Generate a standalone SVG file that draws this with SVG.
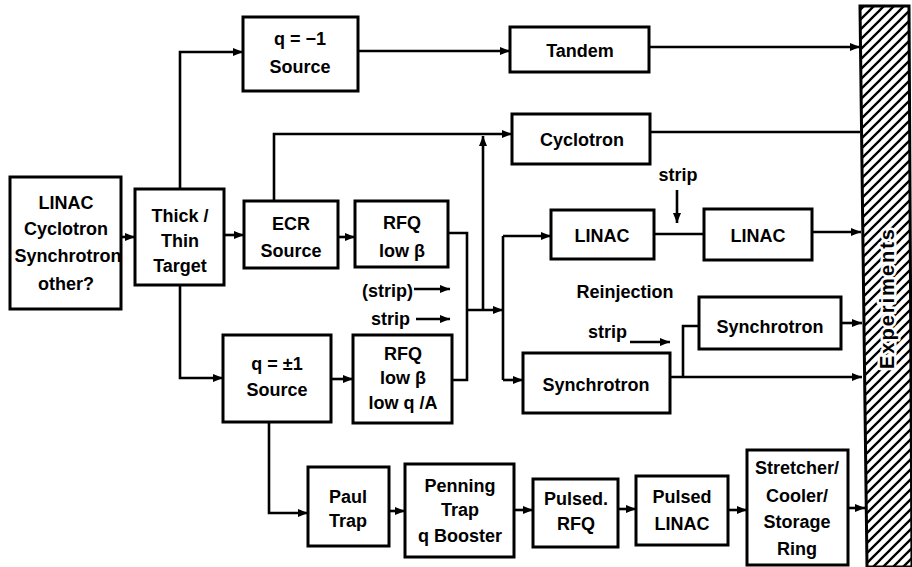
<svg xmlns="http://www.w3.org/2000/svg" width="912" height="567" viewBox="0 0 912 567">
<defs>
<marker id="ah" viewBox="0 0 10 8" refX="10" refY="4" markerWidth="10" markerHeight="8" markerUnits="userSpaceOnUse" orient="auto">
<path d="M0,0 L10,4 L0,8 z" fill="#000"/>
</marker>
<pattern id="hatch" patternUnits="userSpaceOnUse" width="10" height="10">
<path d="M-2,2 L2,-2 M0,10 L10,0 M8,12 L12,8" stroke="#000" stroke-width="2.3"/>
</pattern>
</defs>
<style>
.box{fill:#fff;stroke:#000;stroke-width:3}
.t{font-family:"Liberation Sans",Arial,sans-serif;font-weight:bold;font-size:18px;text-anchor:middle;fill:#000}
.l{font-family:"Liberation Sans",Arial,sans-serif;font-weight:bold;font-size:18px;fill:#000}
.c{fill:none;stroke:#000;stroke-width:2.6}
.a{marker-end:url(#ah)}
</style>
<rect width="912" height="567" fill="#fff"/>

<g id="connectors">
<path class="c a" d="M121,237 H135"/>
<path class="c a" d="M180,189 V52 H243"/>
<path class="c a" d="M358,51 H510"/>
<path class="c a" d="M649,47 H860"/>
<path class="c a" d="M224,235 H244"/>
<path class="c a" d="M274,201 V134 H512"/>
<path class="c" d="M650,132 H860"/>
<path class="c a" d="M338,237 H355"/>
<path class="c a" d="M180,285 V378 H223"/>
<path class="c a" d="M331,379 H353"/>
<path class="c" d="M448,233 H467 V380 H452"/>
<path class="c a" d="M467,310 H503"/>
<path class="c a" d="M483,310 V136"/>
<path class="c" d="M503,236 V380"/>
<path class="c a" d="M503,236 H551"/>
<path class="c a" d="M503,380 H523"/>
<path class="c" d="M654,234 H704"/>
<path class="c a" d="M677,190 V223"/>
<path class="c a" d="M812,232 H861"/>
<path class="c a" d="M670,377 H862"/>
<path class="c" d="M683,377 V326 H699"/>
<path class="c a" d="M841,323 H862"/>
<path class="c a" d="M630,342 H670"/>
<path class="c a" d="M414,289 H450"/>
<path class="c a" d="M416,319 H450"/>
<path class="c a" d="M269,422 V513 H308"/>
<path class="c a" d="M389,511 H405"/>
<path class="c a" d="M514,510 H533"/>
<path class="c a" d="M618,509 H636"/>
<path class="c a" d="M728,510 H747"/>
<path class="c a" d="M848,508 H865"/>
</g>

<g id="labels">
<text class="l" x="678" y="181" text-anchor="middle">strip</text>
<text class="t" x="625" y="298">Reinjection</text>
<text class="l" x="413" y="297" text-anchor="end">(strip)</text>
<text class="l" x="410" y="325" text-anchor="end">strip</text>
<text class="l" x="627" y="338" text-anchor="end">strip</text>
</g>

<g id="experiments">
<polygon points="860,6 909,6 912,567 867,567" fill="url(#hatch)" stroke="#000" stroke-width="3"/>
<text class="t" transform="translate(894,299) rotate(-90)" textLength="140" lengthAdjust="spacing" style="font-size:20px;stroke:#fff;stroke-width:5px;paint-order:stroke;stroke-linejoin:round">Experiments</text>
</g>

<g id="n-driver">
<rect class="box" x="10" y="177" width="111" height="132"/>
<text class="t" x="66" y="209">LINAC</text>
<text class="t" x="66" y="235">Cyclotron</text>
<text class="t" x="68" y="262">Synchrotron</text>
<text class="t" x="66" y="290">other?</text>
</g>
<g id="n-target">
<rect class="box" x="135" y="189" width="89" height="96"/>
<text class="t" x="180" y="222">Thick /</text>
<text class="t" x="180" y="247">Thin</text>
<text class="t" x="180" y="272">Target</text>
</g>
<g id="n-qminus">
<rect class="box" x="243" y="17" width="115" height="74"/>
<text class="t" x="300" y="45">q = −1</text>
<text class="t" x="300" y="73">Source</text>
</g>
<g id="n-tandem">
<rect class="box" x="510" y="27" width="139" height="45"/>
<text class="t" x="580" y="57">Tandem</text>
</g>
<g id="n-cyclotron">
<rect class="box" x="512" y="114" width="138" height="50"/>
<text class="t" x="582" y="146">Cyclotron</text>
</g>
<g id="n-ecr">
<rect class="box" x="244" y="201" width="94" height="67"/>
<text class="t" x="291" y="230">ECR</text>
<text class="t" x="291" y="257">Source</text>
</g>
<g id="n-rfq1">
<rect class="box" x="355" y="201" width="93" height="66"/>
<text class="t" x="402" y="229">RFQ</text>
<text class="t" x="402" y="257">low β</text>
</g>
<g id="n-qpm">
<rect class="box" x="223" y="335" width="108" height="87"/>
<text class="t" x="277" y="370">q = ±1</text>
<text class="t" x="277" y="396">Source</text>
</g>
<g id="n-rfq2">
<rect class="box" x="353" y="335" width="99" height="88"/>
<text class="t" x="403" y="360">RFQ</text>
<text class="t" x="403" y="384">low β</text>
<text class="t" x="403" y="409">low q /A</text>
</g>
<g id="n-linac1">
<rect class="box" x="551" y="210" width="103" height="49"/>
<text class="t" x="602" y="242">LINAC</text>
</g>
<g id="n-linac2">
<rect class="box" x="704" y="209" width="108" height="51"/>
<text class="t" x="758" y="242">LINAC</text>
</g>
<g id="n-synch-upper">
<rect class="box" x="699" y="297" width="142" height="52"/>
<text class="t" x="770" y="333">Synchrotron</text>
</g>
<g id="n-synch-lower">
<rect class="box" x="523" y="353" width="147" height="60"/>
<text class="t" x="596" y="391">Synchrotron</text>
</g>
<g id="n-paul">
<rect class="box" x="308" y="467" width="81" height="79"/>
<text class="t" x="348" y="503">Paul</text>
<text class="t" x="348" y="527">Trap</text>
</g>
<g id="n-penning">
<rect class="box" x="405" y="464" width="109" height="93"/>
<text class="t" x="460" y="492">Penning</text>
<text class="t" x="460" y="516">Trap</text>
<text class="t" x="460" y="542">q Booster</text>
</g>
<g id="n-prfq">
<rect class="box" x="533" y="479" width="85" height="68"/>
<text class="t" x="576" y="505">Pulsed.</text>
<text class="t" x="576" y="530">RFQ</text>
</g>
<g id="n-plinac">
<rect class="box" x="636" y="476" width="92" height="69"/>
<text class="t" x="682" y="503">Pulsed</text>
<text class="t" x="682" y="530">LINAC</text>
</g>
<g id="n-stretcher">
<rect class="box" x="747" y="450" width="101" height="115"/>
<text class="t" x="797" y="474">Stretcher/</text>
<text class="t" x="797" y="502">Cooler/</text>
<text class="t" x="797" y="528">Storage</text>
<text class="t" x="797" y="555">Ring</text>
</g>
</svg>
